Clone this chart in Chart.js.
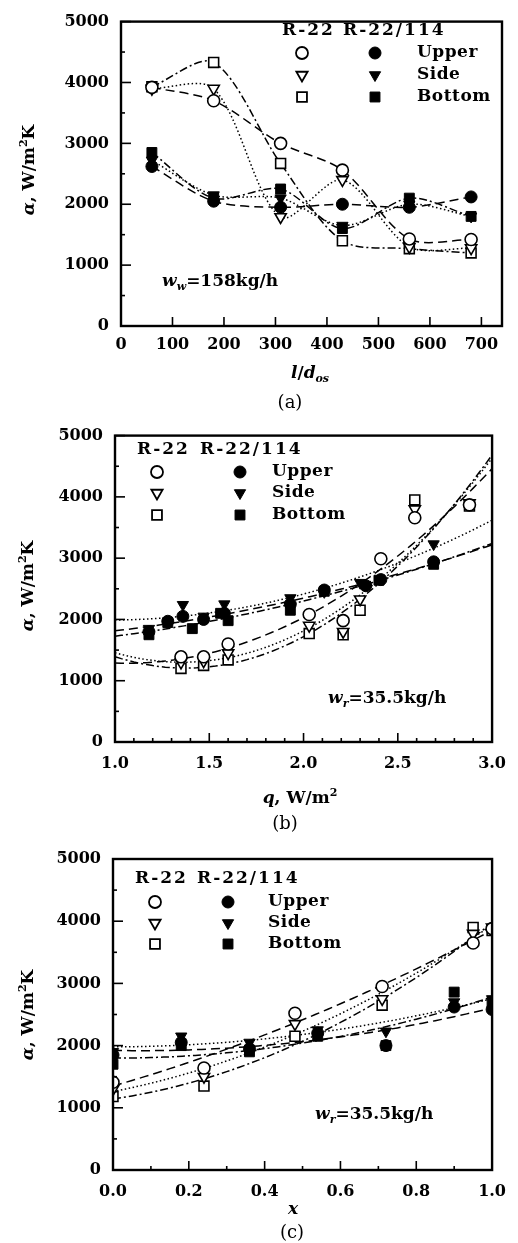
<!DOCTYPE html>
<html><head><meta charset="utf-8">
<script src="https://cdn.jsdelivr.net/npm/chart.js@4.4.0/dist/chart.umd.min.js"></script>
<style>
html,body{margin:0;padding:0;background:#fff;}
body{width:518px;height:1243px;position:relative;overflow:hidden;font-family:"DejaVu Serif",serif;color:#000;}
.pan{position:absolute;left:0;width:518px;}
.t{position:absolute;white-space:nowrap;font-weight:bold;font-size:17px;line-height:1;}
.c{transform:translate(-50%,-50%);}
.l{transform:translate(0,-50%);}
.rot{transform:translate(-50%,-50%) rotate(-90deg);}
.cap{font-weight:normal;font-size:18px;}
sub,sup{font-size:11px;line-height:0;}
</style></head><body>
<div class="pan" style="top:0;height:414px"><canvas id="ca" width="518" height="414"></canvas></div>
<div class="pan" style="top:414px;height:420px"><canvas id="cb" width="518" height="420"></canvas></div>
<div class="pan" style="top:834px;height:409px"><canvas id="cc" width="518" height="409"></canvas></div>

<div class="t rot" style="left:28px;top:170px"><i>α</i>, W/m<sup>2</sup>K</div>
<div class="t c" style="left:310px;top:372px"><i>l</i>/<i>d</i><sub><i>os</i></sub></div>
<div class="t l" style="left:162px;top:280px"><i>w</i><sub><i>w</i></sub>=158kg/h</div>
<div class="t c cap" style="left:290px;top:402px">(a)</div>

<div class="t rot" style="left:27px;top:586px"><i>α</i>, W/m<sup>2</sup>K</div>
<div class="t c" style="left:300px;top:797px"><i>q</i>, W/m<sup>2</sup></div>
<div class="t l" style="left:328px;top:697px"><i>w</i><sub><i>r</i></sub>=35.5kg/h</div>
<div class="t c cap" style="left:285px;top:823px">(b)</div>

<div class="t rot" style="left:27px;top:1015px"><i>α</i>, W/m<sup>2</sup>K</div>
<div class="t c" style="left:293px;top:1208px"><i>x</i></div>
<div class="t l" style="left:315px;top:1113px"><i>w</i><sub><i>r</i></sub>=35.5kg/h</div>
<div class="t c cap" style="left:292px;top:1232px">(c)</div>

<script>
// ---------------- DATA ----------------
const HEAD_LABELS = ['R-22', 'R-22/114'];
const LOC_LABELS = ['Upper', 'Side', 'Bottom'];
const Y_TICKS = [0, 1000, 2000, 3000, 4000, 5000];

// Panel (a): alpha vs l/d_os
const A_X = [60, 180, 310, 430, 560, 680];
const A_R22_UPPER  = [3920, 3700, 3000, 2560, 1430, 1420];
const A_R22_SIDE   = [3900, 3900, 1790, 2400, 1300, 1280];
const A_R22_BOTTOM = [3930, 4330, 2670, 1400, 1270, 1200];
const A_MIX_UPPER  = [2620, 2050, 1950, 2000, 1950, 2120];
const A_MIX_SIDE   = [2720, 2150, 2100, 1650, 2000, 1800];
const A_MIX_BOTTOM = [2850, 2100, 2250, 1600, 2100, 1800];
const A_X_TICKS = [0, 100, 200, 300, 400, 500, 600, 700];

// Panel (b): alpha vs q
const B_R22_UPPER_Q  = [1.35, 1.47, 1.60, 2.03, 2.21, 2.41, 2.59, 2.88];
const B_R22_UPPER    = [1390, 1390, 1600, 2080, 1980, 2990, 3660, 3870];
const B_R22_SIDE_Q   = [1.35, 1.47, 1.60, 2.03, 2.21, 2.30, 2.59, 2.88];
const B_R22_SIDE     = [1300, 1320, 1450, 1900, 1800, 2330, 3800, 3900];
const B_R22_BOTTOM_Q = [1.35, 1.47, 1.60, 2.03, 2.21, 2.30, 2.59, 2.88];
const B_R22_BOTTOM   = [1200, 1250, 1340, 1770, 1750, 2150, 3950, 3850];
const B_MIX_UPPER_Q  = [1.18, 1.28, 1.36, 1.47, 1.58, 1.93, 2.11, 2.33, 2.41, 2.69];
const B_MIX_UPPER    = [1800, 1970, 2050, 2000, 2100, 2250, 2480, 2550, 2650, 2940];
const B_MIX_SIDE_Q   = [1.18, 1.36, 1.47, 1.58, 1.93, 2.11, 2.30, 2.69];
const B_MIX_SIDE     = [1850, 2240, 2050, 2250, 2350, 2450, 2600, 3230];
const B_MIX_BOTTOM_Q = [1.18, 1.28, 1.41, 1.56, 1.60, 1.93, 2.11, 2.40, 2.69];
const B_MIX_BOTTOM   = [1750, 1950, 1850, 2100, 1980, 2150, 2460, 2640, 2900];
const B_X_TICKS = [1.0, 1.5, 2.0, 2.5, 3.0];

// Panel (c): alpha vs x
const C_R22_X      = [0.0, 0.24, 0.48, 0.71, 0.95, 1.0];
const C_R22_UPPER  = [1410, 1640, 2520, 2950, 3650, 3880];
const C_R22_SIDE   = [1300, 1500, 2350, 2750, 3800, 3900];
const C_R22_BOTTOM = [1180, 1350, 2150, 2650, 3900, 3850];
const C_MIX_X      = [0.0, 0.18, 0.36, 0.54, 0.72, 0.90, 1.0];
const C_MIX_UPPER  = [1850, 2050, 1950, 2200, 2000, 2620, 2580];
const C_MIX_SIDE   = [1900, 2150, 2050, 2250, 2230, 2700, 2750];
const C_MIX_BOTTOM = [1700, 2000, 1900, 2150, 2000, 2860, 2700];
const C_X_TICKS = [0.0, 0.2, 0.4, 0.6, 0.8, 1.0];

// ---------------- STYLES ----------------
const FONT = "DejaVu Serif";
const STY = [
  { pointStyle: 'circle',   rotation: 0,   radius: 6,   dash: [9, 5] },
  { pointStyle: 'triangle', rotation: 180, radius: 6.5, dash: [1.5, 2.5] },
  { pointStyle: 'rect',     rotation: 0,   radius: 7,   dash: [8, 3, 2, 3] }
];

function pts(xs, ys) { return xs.map((x, i) => ({ x: x, y: ys[i] })); }

function polyfit(xs, ys, deg) {
  const n = deg + 1;
  const M = Array.from({ length: n }, () => new Array(n + 1).fill(0));
  for (let k = 0; k < xs.length; k++) {
    for (let i = 0; i < n; i++) {
      for (let j = 0; j < n; j++) M[i][j] += Math.pow(xs[k], i + j);
      M[i][n] += ys[k] * Math.pow(xs[k], i);
    }
  }
  for (let i = 0; i < n; i++) {
    let p = i;
    for (let r = i + 1; r < n; r++) if (Math.abs(M[r][i]) > Math.abs(M[p][i])) p = r;
    [M[i], M[p]] = [M[p], M[i]];
    for (let r = 0; r < n; r++) {
      if (r === i) continue;
      const f = M[r][i] / M[i][i];
      for (let c = i; c <= n; c++) M[r][c] -= f * M[i][c];
    }
  }
  return M.map((row, i) => row[n] / M[i][i]);
}
function fitLine(xs, ys, deg, x0, x1) {
  const c = polyfit(xs, ys, deg);
  const out = [];
  const N = 60;
  for (let s = 0; s <= N; s++) {
    const x = x0 + (x1 - x0) * s / N;
    let y = 0;
    for (let i = 0; i < c.length; i++) y += c[i] * Math.pow(x, i);
    out.push({ x: x, y: y });
  }
  return out;
}

function markerDs(data, k, filled) {
  const s = STY[k];
  return {
    data: data, showLine: false, order: 1,
    pointStyle: s.pointStyle, rotation: s.rotation, pointRadius: s.radius, pointHoverRadius: s.radius,
    backgroundColor: filled ? '#000' : '#fff', borderColor: '#000', borderWidth: filled ? 1 : 1.6
  };
}
function lineDs(data, k, tension) {
  return {
    data: data, showLine: true, order: 2, pointRadius: 0, pointHoverRadius: 0,
    borderColor: '#000', borderWidth: 1.5, borderDash: STY[k].dash, tension: tension, fill: false
  };
}

// inward ticks + frame
const frameTicks = {
  id: 'frameTicks',
  afterDatasetsDraw(chart, args, o) {
    const { ctx, chartArea: a, scales: { x, y } } = chart;
    ctx.save();
    ctx.strokeStyle = '#000';
    ctx.setLineDash([]);
    ctx.lineWidth = 1.6;
    const seg = (x1, y1, x2, y2) => { ctx.beginPath(); ctx.moveTo(x1, y1); ctx.lineTo(x2, y2); ctx.stroke(); };
    for (let v = y.min; v <= y.max + 1e-9; v += o.yMinor) {
      const p = y.getPixelForValue(v);
      const major = Math.abs(v / o.yMajor - Math.round(v / o.yMajor)) < 1e-6;
      seg(a.left, p, a.left + (major ? 10 : 4), p);
    }
    for (let v = o.xStart; v <= x.max + 1e-9; v += o.xMinor) {
      const p = x.getPixelForValue(v);
      const major = Math.abs((v - o.xStart) / o.xMajor - Math.round((v - o.xStart) / o.xMajor)) < 1e-6;
      seg(p, a.bottom, p, a.bottom - (major ? 9 : 4));
    }
    ctx.lineWidth = 2.4;
    ctx.strokeRect(a.left, a.top, a.right - a.left, a.bottom - a.top);
    ctx.restore();
  }
};

function drawSym(ctx, k, filled, px, py) {
  const s = STY[k];
  ctx.save();
  ctx.fillStyle = filled ? '#000' : '#fff';
  ctx.strokeStyle = '#000';
  ctx.lineWidth = filled ? 1 : 1.8;
  ctx.setLineDash([]);
  Chart.helpers.drawPoint(ctx, { pointStyle: s.pointStyle, rotation: s.rotation, radius: s.radius, borderWidth: ctx.lineWidth }, px, py);
  ctx.restore();
}
const panelLegend = {
  id: 'panelLegend',
  afterDraw(chart, args, o) {
    const ctx = chart.ctx;
    ctx.save();
    ctx.fillStyle = '#000';
    ctx.font = 'bold 17px "' + FONT + '"';
    ctx.textBaseline = 'middle';
    ctx.textAlign = 'left';
    if ('letterSpacing' in ctx) ctx.letterSpacing = '2px';
    ctx.fillText(HEAD_LABELS[0], o.h1, o.hy);
    ctx.fillText(HEAD_LABELS[1], o.h2, o.hy);
    if ('letterSpacing' in ctx) ctx.letterSpacing = '0.5px';
    for (let k = 0; k < 3; k++) {
      drawSym(ctx, k, false, o.ox, o.rows[k]);
      drawSym(ctx, k, true, o.fx, o.rows[k]);
      ctx.fillStyle = '#000';
      ctx.fillText(LOC_LABELS[k], o.lx, o.rows[k]);
    }
    ctx.restore();
  }
};

Chart.defaults.font.family = FONT;
Chart.defaults.font.size = 16;
Chart.defaults.font.weight = 'bold';
Chart.defaults.color = '#000';

function makeChart(id, H, area, xcfg, datasets, tickOpts, legendOpts) {
  return new Chart(document.getElementById(id), {
    type: 'scatter',
    data: { datasets: datasets },
    options: {
      responsive: false, animation: false,
      layout: { padding: { left: 0, top: area.T, right: 518 - area.R, bottom: 0 } },
      plugins: { legend: { display: false }, tooltip: { enabled: false }, frameTicks: tickOpts, panelLegend: legendOpts },
      scales: {
        x: {
          type: 'linear', min: xcfg.min, max: xcfg.max,
          grid: { display: false, drawTicks: false }, border: { display: false },
          afterBuildTicks: s => { s.ticks = xcfg.ticks.map(v => ({ value: v })); },
          ticks: { padding: xcfg.pad, maxRotation: 0, autoSkip: false, callback: v => xcfg.fmt(v), font: { size: 16, weight: 'bold' } },
          afterFit: s => { s.height = H - area.B; }
        },
        y: {
          type: 'linear', min: 0, max: 5000,
          grid: { display: false, drawTicks: false }, border: { display: false },
          afterBuildTicks: s => { s.ticks = Y_TICKS.map(v => ({ value: v })); },
          ticks: { padding: 12, autoSkip: false, callback: v => String(v), font: { size: 16, weight: 'bold' } },
          afterFit: s => { s.width = area.L; }
        }
      }
    },
    plugins: [frameTicks, panelLegend]
  });
}

// ---- Panel (a)
(function () {
  const R = [A_R22_UPPER, A_R22_SIDE, A_R22_BOTTOM];
  const M = [A_MIX_UPPER, A_MIX_SIDE, A_MIX_BOTTOM];
  const ds = [];
  for (let k = 0; k < 3; k++) {
    ds.push(markerDs(pts(A_X, R[k]), k, false));
    ds.push(markerDs(pts(A_X, M[k]), k, true));
    ds.push(lineDs(pts(A_X, R[k]), k, 0.3));
    ds.push(lineDs(pts(A_X, M[k]), k, 0.3));
  }
  makeChart('ca', 414, { L: 121, R: 502, T: 15, B: 326 },
    { min: 0, max: 740, ticks: A_X_TICKS, pad: 9, fmt: v => String(v) }, ds,
    { yMajor: 1000, yMinor: 500, xStart: 0, xMajor: 100, xMinor: 100 },
    { h1: 282, h2: 343, hy: 31, ox: 302, fx: 375, lx: 417, rows: [53, 75, 97] });
})();

// ---- Panel (b)
(function () {
  const RQ = [B_R22_UPPER_Q, B_R22_SIDE_Q, B_R22_BOTTOM_Q];
  const R = [B_R22_UPPER, B_R22_SIDE, B_R22_BOTTOM];
  const MQ = [B_MIX_UPPER_Q, B_MIX_SIDE_Q, B_MIX_BOTTOM_Q];
  const M = [B_MIX_UPPER, B_MIX_SIDE, B_MIX_BOTTOM];
  const ds = [];
  for (let k = 0; k < 3; k++) {
    ds.push(markerDs(pts(RQ[k], R[k]), k, false));
    ds.push(markerDs(pts(MQ[k], M[k]), k, true));
    ds.push(lineDs(fitLine(RQ[k], R[k], 2, 1.0, 3.0), k, 0));
    ds.push(lineDs(fitLine(MQ[k], M[k], 2, 1.0, 3.0), k, 0));
  }
  makeChart('cb', 420, { L: 115, R: 497, T: 15, B: 328 },
    { min: 1.0, max: 3.0, ticks: B_X_TICKS, pad: 12, fmt: v => v.toFixed(1) }, ds,
    { yMajor: 1000, yMinor: 500, xStart: 1.0, xMajor: 0.5, xMinor: 0.1 },
    { h1: 137, h2: 200, hy: 36, ox: 157, fx: 240, lx: 272, rows: [58, 79, 101] });
})();

// ---- Panel (c)
(function () {
  const R = [C_R22_UPPER, C_R22_SIDE, C_R22_BOTTOM];
  const M = [C_MIX_UPPER, C_MIX_SIDE, C_MIX_BOTTOM];
  const ds = [];
  for (let k = 0; k < 3; k++) {
    ds.push(markerDs(pts(C_R22_X, R[k]), k, false));
    ds.push(markerDs(pts(C_MIX_X, M[k]), k, true));
    ds.push(lineDs(fitLine(C_R22_X, R[k], 2, 0.0, 1.0), k, 0));
    ds.push(lineDs(fitLine(C_MIX_X, M[k], 2, 0.0, 1.0), k, 0));
  }
  makeChart('cc', 409, { L: 113, R: 495, T: 25, B: 336 },
    { min: 0.0, max: 1.0, ticks: C_X_TICKS, pad: 12, fmt: v => v.toFixed(1) }, ds,
    { yMajor: 1000, yMinor: 500, xStart: 0.0, xMajor: 0.2, xMinor: 0.1 },
    { h1: 135, h2: 197, hy: 45, ox: 155, fx: 228, lx: 268, rows: [68, 89, 110] });
})();
</script>
</body></html>
